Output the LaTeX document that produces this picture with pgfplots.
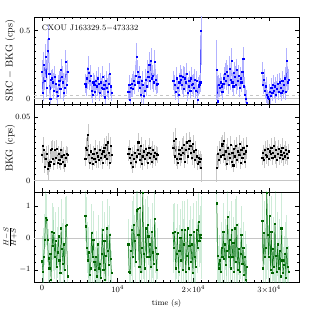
\documentclass[border=0pt]{standalone}
\usepackage{pgfplots}
\usepackage{pgfplotstable}
\pgfplotsset{compat=1.18}
\definecolor{hrline}{RGB}{0,100,0}
\definecolor{hrerr}{RGB}{60,180,100}
\pgfplotstableread{
t s se b be h he
0 0.20 0.08 0.020 0.006 -0.73 0.8
120 0.04 0.06 0.027 0.007 -1.07 0.7
240 0.25 0.09 0.024 0.006 -0.59 0.9
360 0.13 0.07 0.011 0.005 -0.05 0.8
480 0.31 0.09 0.017 0.006 0.62 0.9
600 0.08 0.07 0.021 0.006 0.57 0.8
720 0.35 0.09 0.009 0.005 -0.05 0.7
840 0.44 0.10 0.014 0.014 -0.64 0.9
960 0.18 0.08 0.012 0.005 -0.95 0.8
1080 0.00 0.06 0.015 0.006 -0.50 0.7
1200 0.14 0.07 0.024 0.007 -1.30 0.6
1320 0.15 0.07 0.025 0.007 0.20 0.9
1440 0.12 0.07 0.017 0.006 -0.25 0.8
1560 0.06 0.06 0.013 0.005 0.15 0.8
1680 0.16 0.08 0.024 0.007 -0.60 0.7
1800 0.11 0.07 0.018 0.006 -0.10 0.9
1920 0.05 0.06 0.025 0.007 -0.90 0.7
2040 0.02 0.06 0.014 0.005 -0.45 0.8
2160 0.10 0.07 0.021 0.006 0.05 0.9
2280 0.13 0.07 0.016 0.006 -0.70 0.7
2400 0.07 0.07 0.013 0.005 -1.10 0.6
2520 0.21 0.08 0.024 0.007 0.30 0.9
2640 0.16 0.08 0.019 0.006 -0.35 0.8
2760 0.12 0.07 0.015 0.006 -0.80 0.7
2880 0.04 0.06 0.020 0.006 -0.20 0.8
3000 0.08 0.07 0.012 0.005 -1.00 0.7
3120 0.27 0.09 0.018 0.006 0.38 0.9
3240 0.10 0.07 0.021 0.006 0.40 0.9
3360 0.20 0.08 0.020 0.006 -1.20 0.6
4500 nan 0 nan 0 nan 0
5700 0.11 0.07 0.017 0.006 0.70 0.8
5820 0.09 0.07 0.026 0.007 0.36 0.9
5940 0.15 0.08 0.024 0.007 -0.30 0.8
6060 0.22 0.09 0.036 0.008 -0.70 0.7
6180 0.19 0.08 0.020 0.006 -0.45 0.8
6300 0.13 0.07 0.014 0.005 -1.15 0.6
6420 0.17 0.08 0.023 0.006 -0.95 0.7
6540 0.06 0.06 0.018 0.006 0.15 0.9
6660 0.03 0.06 0.013 0.005 -0.60 0.8
6780 0.12 0.07 0.021 0.006 -0.05 0.9
6900 0.10 0.07 0.017 0.006 -0.75 0.7
7020 0.05 0.06 0.025 0.007 -1.00 0.7
7140 0.13 0.07 0.015 0.005 -0.60 0.8
7260 0.09 0.07 0.022 0.006 -1.20 0.6
7380 0.15 0.08 0.019 0.006 -0.20 0.9
7500 0.11 0.07 0.016 0.006 -0.95 0.7
7620 0.04 0.06 0.024 0.007 -0.80 0.7
7740 0.12 0.07 0.018 0.006 -1.25 0.6
7860 0.08 0.07 0.021 0.006 -0.50 0.8
7980 0.16 0.08 0.014 0.005 0.25 0.9
8100 0.07 0.06 0.023 0.006 -1.00 0.7
8220 0.10 0.07 0.026 0.007 -0.10 0.9
8340 0.01 0.05 0.019 0.006 -1.30 0.6
8460 0.13 0.07 0.028 0.007 -0.55 0.8
8580 0.08 0.07 0.017 0.006 0.30 0.9
8700 0.05 0.06 0.030 0.007 -0.40 0.8
8820 0.11 0.07 0.022 0.006 -0.85 0.7
8940 0.18 0.08 0.014 0.005 0.10 0.9
9060 0.09 0.07 0.027 0.007 -0.65 0.8
9180 0.04 0.06 0.020 0.006 -1.10 0.7
10300 nan 0 nan 0 nan 0
11400 0.05 0.06 0.021 0.006 -0.20 0.8
11520 0.10 0.07 0.025 0.007 -1.05 0.7
11640 -0.01 0.05 0.018 0.006 -1.10 0.6
11760 0.08 0.07 0.014 0.005 -0.40 0.8
11880 0.11 0.07 0.020 0.006 0.25 0.9
12000 0.07 0.06 0.011 0.005 -0.60 0.8
12120 0.13 0.07 0.017 0.006 0.40 0.9
12240 0.10 0.07 0.022 0.006 -0.10 0.8
12360 0.17 0.08 0.015 0.005 -0.75 0.7
12480 0.31 0.10 0.019 0.006 0.86 0.9
12600 0.20 0.08 0.024 0.007 0.90 0.9
12720 0.12 0.07 0.030 0.007 0.10 0.8
12840 0.16 0.08 0.021 0.006 -0.90 0.7
12960 0.08 0.07 0.016 0.006 0.95 1.0
13080 0.03 0.06 0.027 0.007 -1.05 0.7
13200 0.13 0.07 0.013 0.005 -0.30 0.8
13320 0.10 0.07 0.019 0.006 1.40 1.0
13440 0.02 0.06 0.023 0.006 -0.50 0.8
13560 0.06 0.06 0.017 0.006 -0.95 0.7
13680 0.14 0.08 0.025 0.007 0.30 0.9
13800 0.09 0.07 0.020 0.006 -0.60 0.8
13920 0.20 0.08 0.014 0.005 0.40 0.9
14040 0.16 0.08 0.022 0.006 0.05 0.9
14160 0.25 0.09 0.026 0.007 -0.60 0.8
14280 0.13 0.07 0.018 0.006 -0.20 0.8
14400 0.28 0.09 0.021 0.006 -0.90 0.7
14520 0.15 0.08 0.015 0.005 0.20 0.9
14640 0.17 0.08 0.024 0.007 -0.45 0.8
14760 0.12 0.07 0.019 0.006 -0.80 0.7
14880 0.27 0.09 0.022 0.006 0.60 0.9
15000 0.14 0.08 0.017 0.006 -0.30 0.8
15120 0.10 0.07 0.021 0.006 -1.00 0.7
15240 0.11 0.07 0.020 0.006 -0.50 0.8
16300 nan 0 nan 0 nan 0
17300 0.13 0.07 0.026 0.007 0.15 0.9
17420 0.13 0.07 0.031 0.007 -0.30 0.8
17540 0.10 0.07 0.019 0.006 0.20 0.9
17660 0.05 0.06 0.033 0.008 -0.95 0.7
17780 0.15 0.08 0.017 0.006 -0.50 0.8
17900 0.08 0.07 0.014 0.005 0.15 0.9
18020 0.03 0.06 0.021 0.006 -1.05 0.7
18140 0.12 0.07 0.024 0.007 -0.40 0.8
18260 0.17 0.08 0.017 0.006 0.00 0.9
18380 0.14 0.08 0.020 0.006 -0.70 0.8
18500 0.10 0.07 0.026 0.007 0.25 0.9
18620 0.16 0.08 0.022 0.006 -1.00 0.7
18740 0.07 0.06 0.028 0.007 -0.20 0.8
18860 0.15 0.08 0.015 0.005 0.25 0.9
18980 0.12 0.07 0.024 0.007 -1.05 0.7
19100 0.18 0.08 0.030 0.007 -0.55 0.8
19220 0.04 0.06 0.019 0.006 0.30 0.9
19340 0.09 0.07 0.025 0.007 -0.95 0.7
19460 0.13 0.07 0.031 0.007 -0.25 0.8
19580 0.06 0.06 0.027 0.007 0.10 0.9
19700 0.15 0.08 0.022 0.006 -0.75 0.8
19820 0.10 0.07 0.018 0.006 -0.20 0.8
19940 0.11 0.07 0.029 0.007 -1.10 0.7
20060 0.08 0.07 0.023 0.006 0.20 0.9
20180 0.14 0.08 0.016 0.006 -0.60 0.8
20300 0.06 0.06 0.024 0.007 -0.90 0.7
20420 0.13 0.07 0.019 0.006 0.25 0.9
20540 -0.01 0.05 0.013 0.005 -0.30 0.8
20660 0.09 0.07 0.018 0.006 0.50 0.9
20780 0.10 0.07 0.015 0.006 -0.10 0.8
20900 0.12 0.07 0.017 0.006 0.10 0.9
21020 0.50 0.25 0.010 0.011 0.00 1.3
22000 nan 0 nan 0 nan 0
23100 0.21 0.22 0.010 0.011 1.08 1.2
23220 -0.02 0.05 0.021 0.006 -0.55 0.8
23340 0.10 0.07 0.016 0.006 -0.95 0.7
23460 0.08 0.07 0.024 0.007 -0.70 0.8
23580 0.12 0.07 0.019 0.006 -1.05 0.7
23700 0.09 0.07 0.027 0.007 -0.30 0.8
23820 0.05 0.06 0.029 0.007 -0.60 0.8
23940 0.11 0.07 0.020 0.006 0.20 0.9
24060 0.15 0.08 0.031 0.007 -0.65 0.8
24180 0.18 0.08 0.017 0.006 -0.20 0.8
24300 0.13 0.07 0.023 0.006 -0.85 0.7
24420 0.20 0.08 0.013 0.005 -0.40 0.8
24540 0.17 0.08 0.026 0.007 0.66 0.9
24660 0.10 0.07 0.021 0.006 -0.60 0.8
24780 0.22 0.09 0.018 0.006 -0.05 0.9
24900 0.14 0.08 0.028 0.007 -0.95 0.7
25020 0.28 0.09 0.015 0.005 0.25 0.9
25140 0.12 0.07 0.022 0.006 -0.60 0.8
25260 0.09 0.07 0.012 0.005 -0.15 0.8
25380 0.19 0.08 0.025 0.007 -1.05 0.7
25500 0.16 0.08 0.019 0.006 0.30 0.9
25620 0.10 0.07 0.027 0.007 -0.75 0.8
25740 0.21 0.08 0.016 0.006 0.40 0.9
25860 0.13 0.07 0.023 0.006 -1.00 0.7
25980 0.17 0.08 0.020 0.006 -0.35 0.8
26100 0.08 0.07 0.029 0.007 -1.05 0.7
26220 0.15 0.08 0.014 0.005 -0.50 0.8
26340 0.12 0.07 0.024 0.007 0.10 0.9
26460 0.20 0.08 0.018 0.006 -0.80 0.8
26580 0.29 0.09 0.026 0.007 -0.30 0.8
26700 0.09 0.07 0.021 0.006 -1.15 0.7
26820 0.03 0.06 0.015 0.005 -0.60 0.8
26940 0.00 0.06 0.023 0.006 -1.30 0.6
27060 -0.03 0.05 0.027 0.007 -0.90 0.7
28000 nan 0 nan 0 nan 0
29100 0.19 0.08 0.018 0.006 0.53 1.0
29220 0.10 0.07 0.022 0.006 -0.95 0.9
29340 0.14 0.08 0.016 0.006 0.15 1.0
29460 0.06 0.06 0.024 0.007 -0.60 0.9
29580 0.09 0.07 0.020 0.006 -0.30 1.0
29700 0.03 0.06 0.019 0.006 1.40 1.2
29820 0.01 0.05 0.025 0.007 0.10 1.1
29940 0.00 0.05 0.017 0.006 -0.60 1.0
30060 0.05 0.06 0.023 0.006 0.70 1.2
30180 0.02 0.06 0.021 0.006 -1.00 0.9
30300 0.08 0.07 0.026 0.007 0.20 1.1
30420 0.04 0.06 0.018 0.006 -1.10 0.8
30540 0.10 0.07 0.022 0.006 -0.35 1.0
30660 0.06 0.06 0.027 0.007 -0.90 0.9
30780 0.09 0.07 0.019 0.006 0.45 1.1
30900 0.03 0.06 0.024 0.007 -0.55 0.9
31020 0.07 0.06 0.016 0.006 -1.05 0.8
31140 0.11 0.07 0.021 0.006 -0.20 1.0
31260 0.05 0.06 0.025 0.007 -0.95 0.9
31380 0.12 0.07 0.018 0.006 -0.40 1.0
31500 0.08 0.07 0.023 0.006 -1.20 0.8
31620 0.04 0.06 0.020 0.006 0.30 1.1
31740 0.13 0.07 0.026 0.007 -0.70 0.9
31860 0.06 0.06 0.017 0.006 -1.10 0.8
31980 0.10 0.07 0.022 0.006 -0.85 0.9
32100 0.15 0.08 0.019 0.006 -0.50 1.0
32220 0.05 0.06 0.024 0.007 -1.25 0.8
32340 0.28 0.09 0.021 0.006 -0.30 1.0
32460 0.12 0.07 0.018 0.006 -0.90 0.9
32580 0.14 0.08 0.023 0.006 -1.05 0.8
}\lc
\pgfplotsset{
  lcax/.style={
    scale only axis, width=265pt,
    xmin=-1060, xmax=33960,
    tick align=inside,
    xtick={0,10000,20000,30000},
    minor x tick num=9,
    major tick length=4pt, minor tick length=2pt,
    axis line style={line width=0.8pt},
    every tick/.style={black, line width=0.5pt},
    tick label style={font=\fontsize{8}{9.5}\selectfont},
    label style={font=\fontsize{8}{9.5}\selectfont},
    every axis y label/.style={at={(axis description cs:-0.09,0.5)}, rotate=90, anchor=center},
    unbounded coords=jump,
    scaled ticks=false,
    yticklabel style={/pgf/number format/fixed},
  },
  refline/.style={gray!45, line width=0.6pt, forget plot},
}
\begin{document}
\begin{tikzpicture}
\useasboundingbox (0,0) rectangle (316pt,316pt);
% top panel
\begin{axis}[lcax, at={(34pt,212pt)}, anchor=south west, height=87pt,
  ymin=-0.04, ymax=0.6, ytick={0,0.5}, minor y tick num=9,
  xticklabels={}, ylabel={SRC $-$ BKG (cps)}]
\addplot[refline] coordinates {(-1060,0) (33960,0)};
\addplot[refline, dashed] coordinates {(-1060,0.022) (33960,0.022)};
\addplot[blue, line width=0.5pt, mark=square*, mark size=0.6pt,
  error bars/.cd, y dir=both, y explicit, error mark=none,
  error bar style={blue!30, line width=0.7pt}]
  table[x=t, y=s, y error=se] {\lc};
\node[anchor=north west, font=\fontsize{8}{9.5}\selectfont, inner sep=1pt] at (axis description cs:0.025,0.92) {CXOU J163329.5$-$473332};
\end{axis}
% middle panel
\begin{axis}[lcax, at={(34pt,124pt)}, anchor=south west, height=88pt,
  ymin=-0.009, ymax=0.06, ytick={0,0.05}, minor y tick num=9,
  xticklabels={}, ylabel={BKG (cps)}]
\addplot[refline] coordinates {(-1060,0) (33960,0)};
\addplot[black, line width=0.5pt, mark=square*, mark size=0.6pt,
  error bars/.cd, y dir=both, y explicit, error mark=none,
  error bar style={black!22, line width=0.7pt}]
  table[x=t, y=b, y error=be] {\lc};
\end{axis}
% bottom panel
\begin{axis}[lcax, at={(34pt,34pt)}, anchor=south west, height=90pt,
  ymin=-1.38, ymax=1.43, ytick={-1,0,1}, minor y tick num=3,
  xticklabels={$0$,$10^4$,$2{\times}10^4$,$3{\times}10^4$},
  xlabel={time (s)}, ylabel={$\frac{H-S}{H+S}$}]
\addplot[refline] coordinates {(-1060,0) (33960,0)};
\addplot[hrline, line width=0.5pt, mark=square*, mark size=0.6pt,
  error bars/.cd, y dir=both, y explicit, error mark=none,
  error bar style={hrerr, opacity=0.25, line width=0.7pt}]
  table[x=t, y=h, y error=he] {\lc};
\end{axis}
\end{tikzpicture}
\end{document}
